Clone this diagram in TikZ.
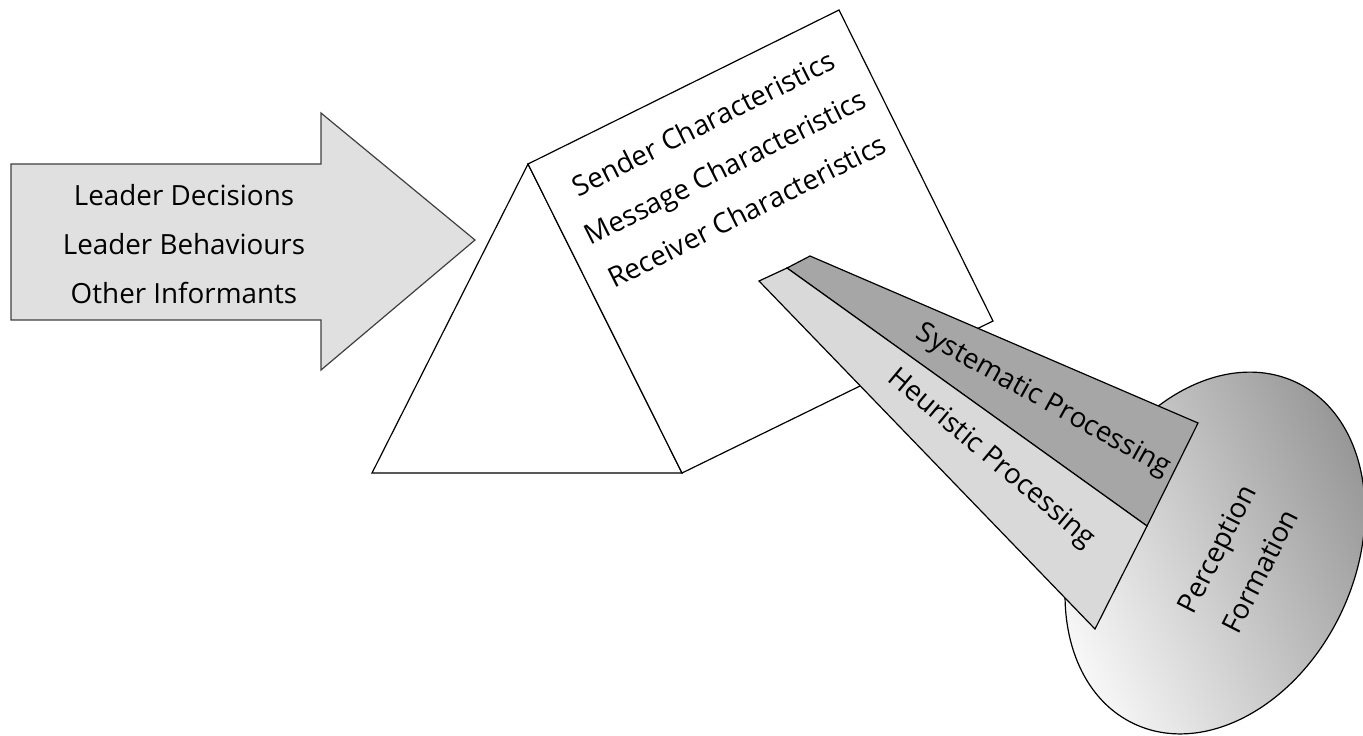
\documentclass[tikz,border=0pt]{standalone}
\usepackage{fontspec}
\setmainfont{Open Sans}
\usetikzlibrary{shapes.geometric}

\begin{document}
\begin{tikzpicture}[x=0.5pt, y=-0.5pt,
    shape line/.style={draw=black, line width=0.6pt},
    label text/.style={font=\fontsize{13.9}{24.5}\selectfont, align=center, inner sep=0pt}]

  \useasboundingbox (0,0) rectangle (1363,735);

  % input arrow
  \draw[shape line, draw=black!75, fill=black!12]
    (11,164) -- (321,164) -- (321,113) -- (475,240) -- (321,370) -- (321,320) -- (11,320) -- cycle;
  \node[label text] (inputs) at (184,244) {Leader Decisions\\Leader Behaviours\\Other Informants};

  % prism
  \coordinate (apex) at (528,164);
  \coordinate (top) at (839,10);
  \coordinate (right) at (993,321);
  \coordinate (front) at (682,473);
  \coordinate (back) at (372,473);
  \draw[shape line, fill=white] (back) -- (apex) -- (front) -- cycle;
  \draw[shape line, fill=white] (apex) -- (top) -- (right) -- (front) -- cycle;
  \node[label text, rotate=26.6] (cues) at (725,167)
    {Sender Characteristics\\Message Characteristics\\Receiver Characteristics};

  % perception
  \node[ellipse, shape line, minimum width=139.6pt, minimum height=189pt, inner sep=0pt,
        rotate=-25.5, left color=black!3, right color=black!42, shading angle=115]
    (percep) at (1215,553) {};
  \node[label text, rotate=63] (perceptxt) at (1238,560) {Perception\\Formation};

  % processing routes
  \coordinate (sys top) at (810,256);
  \coordinate (sys end) at (1198,423);
  \coordinate (split end) at (1147,526);
  \coordinate (split) at (787,268);
  \coordinate (heur top) at (759,281);
  \coordinate (heur end) at (1095,629);
  \draw[shape line, fill=black!35] (sys top) -- (sys end) -- (split end) -- (split) -- cycle;
  \draw[shape line, fill=black!15] (split) -- (split end) -- (heur end) -- (heur top) -- cycle;
  \node[label text, rotate=-29] (systematic) at (1043,401) {Systematic Processing};
  \node[label text, rotate=-40] (heuristic) at (991,459) {Heuristic Processing};

\end{tikzpicture}
\end{document}
